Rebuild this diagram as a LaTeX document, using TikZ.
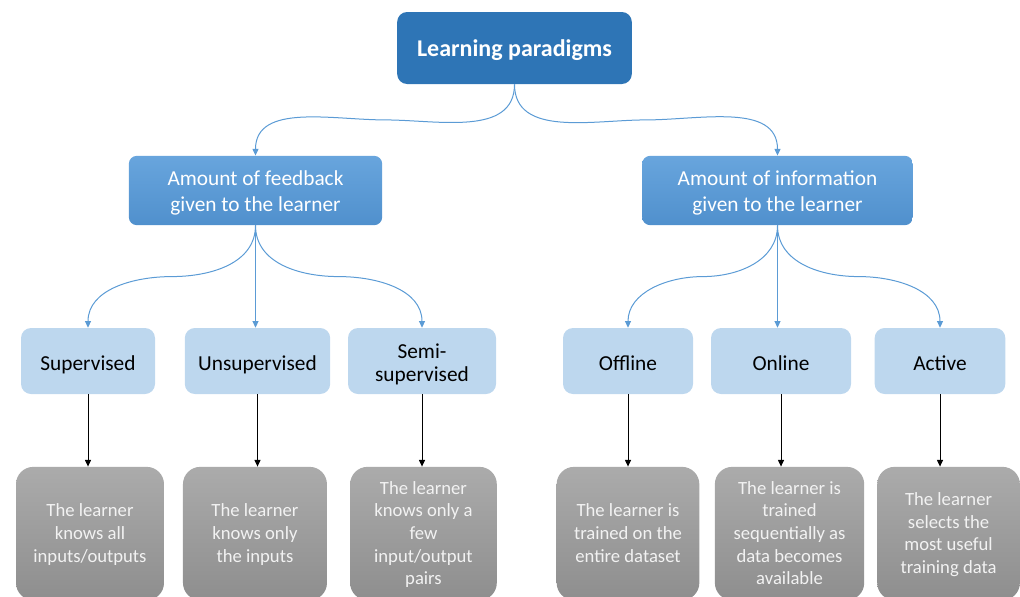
\documentclass[tikz,border=0pt]{standalone}
\usepackage{fontspec}
\setmainfont{Carlito}
\usetikzlibrary{shapes,arrows.meta,positioning,calc}

\definecolor{darkblue}{HTML}{2E75B6}
\definecolor{midblue}{HTML}{5B9BD5}
\definecolor{midbluetop}{HTML}{68A5DD}
\definecolor{midbluebot}{HTML}{5090CD}
\definecolor{paleblue}{HTML}{BDD7EE}
\definecolor{greytop}{HTML}{ABABAB}
\definecolor{greybot}{HTML}{8E8E8E}
\definecolor{greytext}{HTML}{F2F2F2}

\tikzset{
  lines/.style 2 args={align=flush center, execute at begin node={\rule{0pt}{#1}}, execute at end node={\rule[-#2]{0pt}{0pt}}},
  paradigm/.style={rectangle, rounded corners=7.5pt, fill=darkblue, text=white, font=\fontsize{18}{22}\selectfont\bfseries, text width=165pt, minimum width=176pt, minimum height=54pt, lines={17.5pt}{4.5pt}},
  amount/.style={rectangle, rounded corners=6pt, top color=midbluetop, bottom color=midbluebot, text=white, font=\fontsize{16}{19.5}\selectfont, text width=160pt, minimum height=52pt, lines={16.3pt}{4pt}},
  kind/.style={rectangle, rounded corners=7.5pt, fill=paleblue, text=black, font=\fontsize{16}{17.5}\selectfont, text width=90pt, minimum height=49.5pt, lines={17.5pt}{4pt}},
  note/.style={rectangle, rounded corners=13pt, top color=greytop, bottom color=greybot, text=greytext, font=\fontsize{14}{17}\selectfont, text width=92pt, minimum height=100pt, lines={12.4pt}{3.5pt}},
  link/.style={midblue, line width=0.75pt, -{Triangle[length=5pt,width=4.5pt]}},
  down/.style={black, line width=0.75pt, -{Triangle[length=5pt,width=4.5pt]}}
}

\begin{document}
\begin{tikzpicture}[x=0.75pt, y=-0.75pt, node distance=129.4pt]
       \useasboundingbox (0,0) rectangle (1020,596);

       %Defining nodes
       \node[paradigm] (Paradigms) at (514.5,48) {Learning paradigms};

       \node[amount, minimum width=190pt] (Feedback) at (255.5,190.5) {Amount of feedback\\given to the learner};
       \node[amount, minimum width=203pt] (Information) at (777.5,190.5) {Amount of information\\given to the learner};

       \node[kind, minimum width=100.5pt] (Supervised) at (88,361) {Supervised};
       \node[kind, minimum width=109pt] (Unsupervised) at (257.5,361) {Unsupervised};
       \node[kind, minimum width=111pt] (Semi) at (422,361) {Semi-\\supervised};
       \node[kind, minimum width=97.5pt] (Offline) at (628,361) {Offline};
       \node[kind, minimum width=105pt] (Online) at (781,361) {Online};
       \node[kind, minimum width=98pt] (Active) at (940,361) {Active};

       \node[note, minimum width=111pt, below of=Supervised, xshift=1.5pt] (SupervisedNote) {The learner\\knows all\\inputs/outputs};
       \node[note, minimum width=108pt, below of=Unsupervised, xshift=-1.9pt] (UnsupervisedNote) {The learner\\knows only\\the inputs};
       \node[note, minimum width=110pt, below of=Semi, xshift=1.1pt] (SemiNote) {The learner\\knows only a\\few\\input/output\\pairs};
       \node[note, minimum width=107pt, below of=Offline] (OfflineNote) {The learner is\\trained on the\\entire dataset};
       \node[note, minimum width=112pt, below of=Online, xshift=6.4pt] (OnlineNote) {The learner is\\trained\\sequentially as\\data becomes\\available};
       \node[note, minimum width=107pt, below of=Active, xshift=6.4pt] (ActiveNote) {The learner\\selects the\\most useful\\training data};

       %Drawing Diagram
       \draw[link] (Paradigms.south) to[out=-90,in=0] ($(Paradigms.south)!0.5!(Feedback.north)$) to[out=180,in=90] (Feedback.north);
       \draw[link] (Paradigms.south) to[out=-90,in=180] ($(Paradigms.south)!0.5!(Information.north)$) to[out=0,in=90] (Information.north);

       \draw[link] (Feedback.south) to[out=-90,in=0] ($(Feedback.south)!0.5!(Supervised.north)$) to[out=180,in=90] (Supervised.north);
       \draw[link] (Feedback.south) -- (Feedback.south |- Unsupervised.north);
       \draw[link] (Feedback.south) to[out=-90,in=180] ($(Feedback.south)!0.5!(Semi.north)$) to[out=0,in=90] (Semi.north);

       \draw[link] (Information.south) to[out=-90,in=0] ($(Information.south)!0.5!(Offline.north)$) to[out=180,in=90] (Offline.north);
       \draw[link] (Information.south) -- (Information.south |- Online.north);
       \draw[link] (Information.south) to[out=-90,in=180] ($(Information.south)!0.5!(Active.north)$) to[out=0,in=90] (Active.north);

       \draw[down] (Supervised.south) -- (Supervised.south |- SupervisedNote.north);
       \draw[down] (Unsupervised.south) -- (Unsupervised.south |- UnsupervisedNote.north);
       \draw[down] (Semi.south) -- (Semi.south |- SemiNote.north);
       \draw[down] (Offline.south) -- (Offline.south |- OfflineNote.north);
       \draw[down] (Online.south) -- (Online.south |- OnlineNote.north);
       \draw[down] (Active.south) -- (Active.south |- ActiveNote.north);
\end{tikzpicture}
\end{document}
